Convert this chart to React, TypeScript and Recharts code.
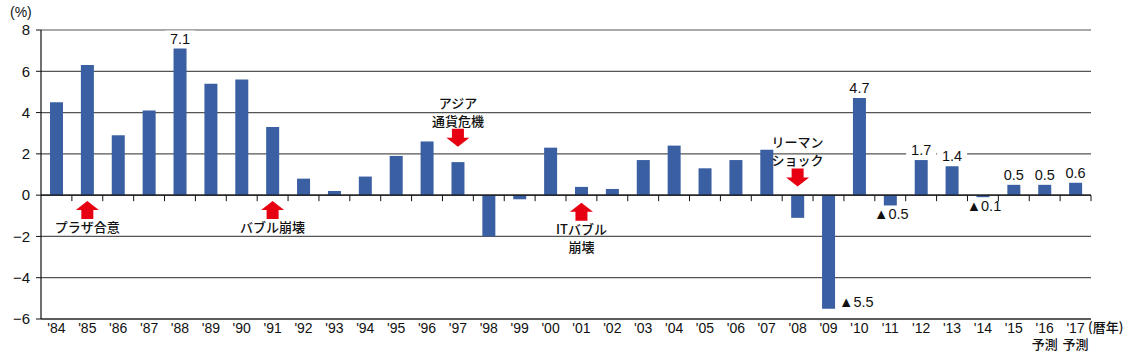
import {
  BarChart,
  Bar,
  XAxis,
  YAxis,
  CartesianGrid,
  ReferenceLine,
  ReferenceDot,
  LabelList,
} from "recharts";

const years = [
  "'84", "'85", "'86", "'87", "'88", "'89", "'90", "'91", "'92", "'93",
  "'94", "'95", "'96", "'97", "'98", "'99", "'00", "'01", "'02", "'03",
  "'04", "'05", "'06", "'07", "'08", "'09", "'10", "'11", "'12", "'13",
  "'14", "'15", "'16", "'17",
];

const growth = [
  4.5, 6.3, 2.9, 4.1, 7.1, 5.4, 5.6, 3.3, 0.8, 0.2,
  0.9, 1.9, 2.6, 1.6, -2.0, -0.2, 2.3, 0.4, 0.3, 1.7,
  2.4, 1.3, 1.7, 2.2, -1.1, -5.5, 4.7, -0.5, 1.7, 1.4,
  -0.1, 0.5, 0.5, 0.6,
];

const yTicks = [-6, -4, -2, 0, 2, 4, 6, 8];

const forecastYears = ["'16", "'17"];
const labeledYears = ["'88", "'09", "'10", "'11", "'12", "'13", "'14", "'15", "'16", "'17"];
const sideLabelYears = ["'09"];

// events: year, arrow direction, where the arrow tip sits (data value), text lines
const events = [
  { year: "'85", dir: "up", tip: -0.28, lines: ["プラザ合意"] },
  { year: "'91", dir: "up", tip: -0.28, lines: ["バブル崩壊"] },
  { year: "'97", dir: "down", tip: 2.35, lines: ["アジア", "通貨危機"] },
  { year: "'01", dir: "up", tip: -0.37, lines: ["ITバブル", "崩壊"] },
  { year: "'08", dir: "down", tip: 0.42, lines: ["リーマン", "ショック"] },
];

const data = years.map((y, i) => ({ year: y, value: growth[i] }));

const NUM_FONT = "'Liberation Sans', Arial, 'DejaVu Sans', sans-serif";
const JP_FONT = "'Noto Sans CJK JP', sans-serif";
const RED = "#e60012";

const fmtY = (v: number) => (v < 0 ? `\u2212${Math.abs(v)}` : `${v}`);

const XTick = (props: any) => {
  const { x, y, payload } = props;
  const fc = forecastYears.includes(payload.value);
  return (
    <g>
      <text x={x} y={y + 14} textAnchor="middle" fontSize={14} fontFamily={NUM_FONT} fill="#111">
        {payload.value}
      </text>
      {fc && (
        <text x={x} y={y + 30} textAnchor="middle" fontSize={13} fontFamily={JP_FONT} fontWeight={500} fill="#111">
          予測
        </text>
      )}
    </g>
  );
};

const ZeroAxis = (props: any) => {
  const { x1, x2, y1 } = props;
  const n = years.length;
  const step = (x2 - x1) / n;
  return (
    <g>
      <line x1={x1} x2={x2} y1={y1} y2={y1} stroke="#111" strokeWidth={1.2} />
      {years.map((_, i) => (
        <line
          key={i}
          x1={x1 + step * (i + 1)}
          x2={x1 + step * (i + 1)}
          y1={y1}
          y2={y1 + 6}
          stroke="#111"
          strokeWidth={1}
        />
      ))}
    </g>
  );
};

const ValueLabel = (props: any) => {
  const { index } = props;
  const vb = props.viewBox || {};
  const x = props.x ?? vb.x;
  const y = props.y ?? vb.y;
  const width = props.width ?? vb.width;
  const height = props.height ?? vb.height;
  const d = data[index];
  if (!d || !labeledYears.includes(d.year)) return null;
  const v = d.value;
  const top = Math.min(y, y + height);
  const bottom = Math.max(y, y + height);
  const cx = x + width / 2;
  if (v >= 0) {
    const txt = v.toFixed(1);
    const w = txt.length * 8 + 6;
    return (
      <g>
        <rect x={cx - w / 2} y={top - 18} width={w} height={15} fill="#fff" />
        <text x={cx} y={top - 5} textAnchor="middle" fontSize={14.5} fontFamily={NUM_FONT} fill="#111">
          {txt}
        </text>
      </g>
    );
  }
  const txt = "▲" + Math.abs(v).toFixed(1);
  if (sideLabelYears.includes(d.year)) {
    return (
      <text x={x + width + 4} y={bottom - 2} textAnchor="start" fontSize={14.5} fontFamily={NUM_FONT} fill="#111">
        {txt}
      </text>
    );
  }
  return (
    <text x={cx + 1} y={bottom + 14} textAnchor="middle" fontSize={14.5} fontFamily={NUM_FONT} fill="#111">
      {txt}
    </text>
  );
};

const makeEvent = (ev: (typeof events)[number]) => (props: any) => {
  const { cx, cy } = props;
  if (cx == null || cy == null) return <g />;
  if (ev.dir === "up") {
    const pts = [
      [cx, cy],
      [cx + 11.5, cy + 9],
      [cx + 6, cy + 9],
      [cx + 6, cy + 18],
      [cx - 6, cy + 18],
      [cx - 6, cy + 9],
      [cx - 11.5, cy + 9],
    ];
    return (
      <g>
        <polygon points={pts.map((p) => p.join(",")).join(" ")} fill={RED} />
        {ev.lines.map((t, i) => (
          <text
            key={t}
            x={cx}
            y={cy + 31 + i * 18}
            textAnchor="middle"
            fontSize={13}
            fontFamily={JP_FONT}
            fontWeight={500}
            fill="#111"
          >
            {t}
          </text>
        ))}
      </g>
    );
  }
  const pts = [
    [cx, cy],
    [cx + 11.5, cy - 9],
    [cx + 6, cy - 9],
    [cx + 6, cy - 18],
    [cx - 6, cy - 18],
    [cx - 6, cy - 9],
    [cx - 11.5, cy - 9],
  ];
  const nl = ev.lines.length;
  return (
    <g>
      <polygon points={pts.map((p) => p.join(",")).join(" ")} fill={RED} />
      {ev.lines.map((t, i) => (
        <text
          key={t}
          x={cx}
          y={cy - 21 - (nl - 1 - i) * 18}
          textAnchor="middle"
          fontSize={13}
          fontFamily={JP_FONT}
          fontWeight={500}
          fill="#111"
        >
          {t}
        </text>
      ))}
    </g>
  );
};

export default function App() {
  return (
    <div style={{ position: "absolute", left: 0, top: 0, width: 1134, height: 360, background: "#fff" }}>
      <div
        style={{
          position: "absolute",
          left: 10,
          top: 4,
          fontSize: 14,
          lineHeight: "16px",
          fontFamily: NUM_FONT,
          color: "#111",
        }}
      >
        (%)
      </div>
      <div
        style={{
          position: "absolute",
          left: 1088,
          top: 319,
          fontSize: 13,
          lineHeight: "16px",
          fontFamily: JP_FONT,
          fontWeight: 500,
          color: "#111",
        }}
      >
        (暦年)
      </div>
      <BarChart
        width={1134}
        height={360}
        data={data}
        margin={{ top: 30, right: 43, left: 0, bottom: 11 }}
        barCategoryGap={0}
      >
        <CartesianGrid vertical={false} stroke="#555" strokeWidth={1.2} />
        <XAxis
          dataKey="year"
          interval={0}
          height={30}
          axisLine={{ stroke: "#111", strokeWidth: 1.2 }}
          tickLine={false}
          tickSize={0}
          tickMargin={0}
          tick={<XTick />}
        />
        <YAxis
          type="number"
          domain={[-6, 8]}
          ticks={yTicks}
          interval={0}
          width={41}
          tickFormatter={fmtY}
          axisLine={{ stroke: "#111", strokeWidth: 1.2 }}
          tickLine={{ stroke: "#111" }}
          tickSize={5}
          tickMargin={6}
          tick={{ fontSize: 15, fontFamily: NUM_FONT, fill: "#111" }}
        />
        <Bar dataKey="value" fill="#3b5fa3" barSize={13} isAnimationActive={false}>
          <LabelList dataKey="value" content={<ValueLabel />} />
        </Bar>
        <ReferenceLine y={0} shape={(p: any) => <ZeroAxis {...p} />} />
        {events.map((ev) => (
          <ReferenceDot
            key={ev.year}
            x={ev.year}
            y={ev.tip}
            r={1}
            ifOverflow="visible"
            shape={makeEvent(ev)}
          />
        ))}
      </BarChart>
    </div>
  );
}
